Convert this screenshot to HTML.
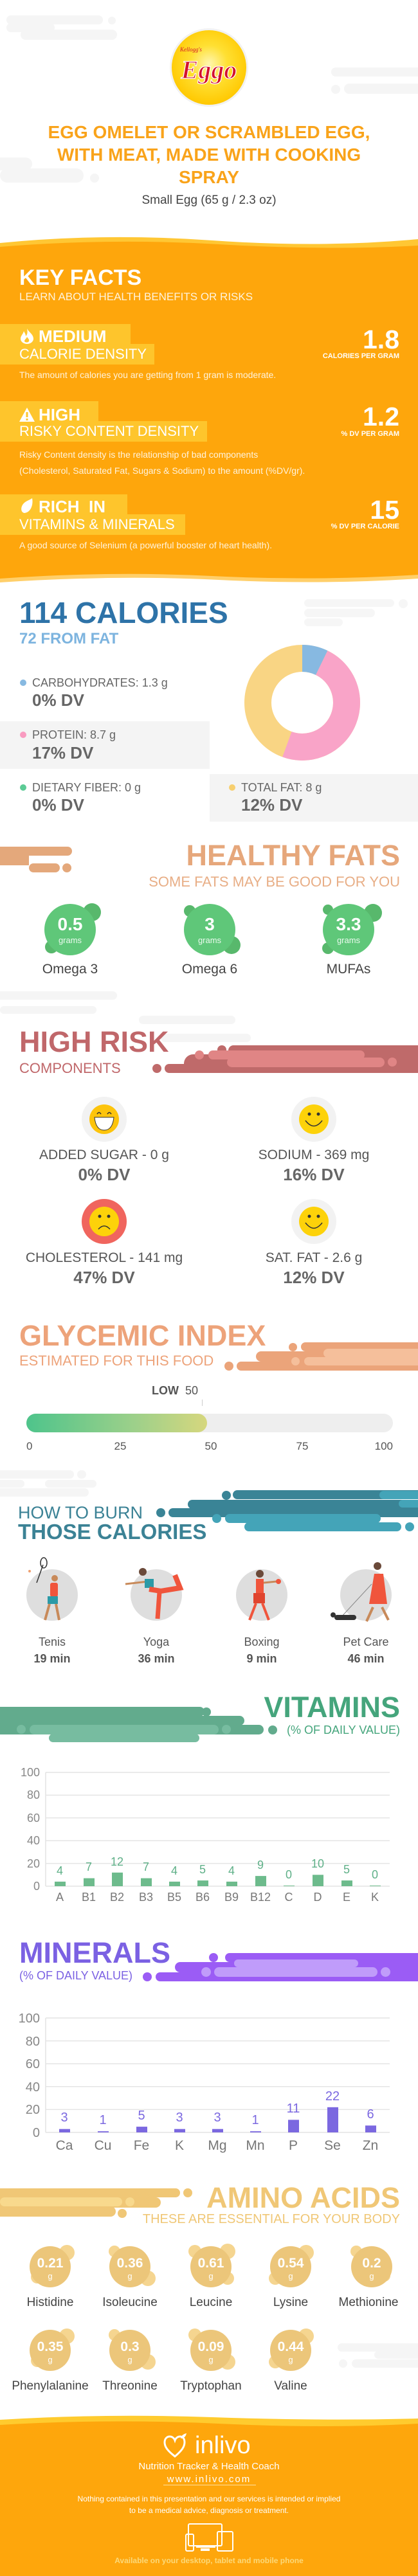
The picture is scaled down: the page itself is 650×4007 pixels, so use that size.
<!DOCTYPE html>
<html><head><meta charset="utf-8">
<style>
*{margin:0;padding:0;box-sizing:border-box}
body{width:650px;height:4007px;background:#fff;font-family:"Liberation Sans",sans-serif;overflow:hidden}
#p{position:relative;width:650px;height:4007px;overflow:hidden}
.t{position:absolute;white-space:nowrap}
.c{text-align:center}
.b{font-weight:bold}
.a{position:absolute}
.r{position:absolute;border-radius:20px}
</style></head><body><div id="p">

<!-- background clouds -->
<div class="r" style="left:10px;top:24px;width:150px;height:14px;background:#f5f5f5"></div>
<div class="r" style="left:168px;top:26px;width:12px;height:12px;background:#f5f5f5"></div>
<div class="r" style="left:32px;top:46px;width:150px;height:16px;background:#f5f5f5"></div>
<div class="r" style="left:10px;top:36px;width:75px;height:14px;background:#f5f5f5"></div>
<div class="r" style="left:515px;top:105px;width:150px;height:14px;background:#f5f5f5"></div>
<div class="r" style="left:535px;top:130px;width:130px;height:16px;background:#f5f5f5"></div>
<div class="r" style="left:515px;top:132px;width:14px;height:14px;background:#f5f5f5"></div>
<div class="r" style="left:-10px;top:245px;width:60px;height:20px;background:#f5f5f5"></div>
<div class="r" style="left:0px;top:262px;width:130px;height:22px;background:#f5f5f5"></div>
<div class="r" style="left:140px;top:270px;width:14px;height:14px;background:#f5f5f5"></div>

<!-- logo -->
<svg class="a" style="left:262px;top:42px" width="126" height="126">
<defs><radialGradient id="lg" cx="50%" cy="45%" r="55%"><stop offset="0" stop-color="#fff6b0"/><stop offset=".45" stop-color="#ffe033"/><stop offset="1" stop-color="#ffc800"/></radialGradient></defs>
<circle cx="63" cy="63" r="61" fill="#f2f2f2"/>
<circle cx="63" cy="63" r="58" fill="url(#lg)"/>
<text x="18" y="38" font-family="Liberation Serif" font-style="italic" font-size="9" fill="#d3112e">Kellogg's</text>
<text x="63" y="80" text-anchor="middle" font-family="Liberation Serif" font-style="italic" font-weight="bold" font-size="40" fill="#d3112e" stroke="#fff" stroke-width="1.2">Eggo</text>
</svg>

<div class="t c b" style="left:0;width:650px;top:188px;line-height:35px;font-size:28px;color:#f9a31a">EGG OMELET OR SCRAMBLED EGG,<br>WITH MEAT, MADE WITH COOKING<br>SPRAY</div>
<div class="t c" style="left:0;width:650px;top:300px;line-height:24px;font-size:19px;color:#444">Small Egg (65 g / 2.3 oz)</div>

<!-- orange key facts bg -->
<svg class="a" style="left:0;top:360px" width="650" height="560">
<path d="M0 18 Q160 2 330 14 T650 12 L650 560 L0 560Z" fill="#ffc734"/>
<path d="M0 24 Q170 10 340 20 T650 22 L650 560 L0 560Z" fill="#fea60c"/>
<path d="M0 540 Q170 528 330 536 T650 534 L650 560 L0 560Z" fill="#ffcf6a"/>
<path d="M0 546 Q180 534 340 542 T650 540 L650 560 L0 560Z" fill="#fff"/>
</svg>

<div class="t b" style="left:30px;top:412px;line-height:40px;font-size:34px;color:#fff">KEY FACTS</div>
<div class="t" style="left:30px;top:452px;line-height:20px;font-size:17px;color:#fff3dc">LEARN ABOUT HEALTH BENEFITS OR RISKS</div>

<div class="a" style="left:0;top:504px;width:203px;height:32px;background:#fec52c"></div>
<div class="a" style="left:0;top:535px;width:240px;height:32px;background:#fec52c"></div>
<svg class="a" style="left:31px;top:511px" width="22" height="24"><path d="M11 0 C14 6 21 9 21 16 A10 8 0 0 1 1 16 C1 11 5 9 6 4 C8 8 9 9 9 12 C12 9 12 5 11 0Z" fill="#fff"/><path d="M11 13 C13 16 15 17 14 20 A4 3 0 0 1 7 20 C7 17 10 16 11 13Z" fill="#fec52c"/></svg>
<div class="t b" style="left:60px;top:508px;line-height:30px;font-size:26px;color:#fff">MEDIUM</div>
<div class="t" style="left:30px;top:538px;line-height:26px;font-size:22px;color:#fff">CALORIE DENSITY</div>
<div class="t b" style="right:29px;top:506px;line-height:44px;font-size:41px;color:#fff">1.8</div>
<div class="t b" style="right:29px;top:548px;line-height:13px;font-size:11px;color:#fff">CALORIES PER GRAM</div>
<div class="t" style="left:30px;top:575px;line-height:17px;font-size:14px;color:#fff3dc">The amount of calories you are getting from 1 gram is moderate.</div>

<div class="a" style="left:0;top:624px;width:153px;height:32px;background:#fec52c"></div>
<div class="a" style="left:0;top:655px;width:322px;height:32px;background:#fec52c"></div>
<svg class="a" style="left:30px;top:634px" width="24" height="22"><path d="M12 0 L24 22 L0 22Z" fill="#fff"/><rect x="10.5" y="7" width="3" height="8" fill="#fec52c"/><rect x="10.5" y="17" width="3" height="3" fill="#fec52c"/></svg>
<div class="t b" style="left:60px;top:630px;line-height:30px;font-size:26px;color:#fff">HIGH</div>
<div class="t" style="left:30px;top:658px;line-height:26px;font-size:22px;color:#fff">RISKY CONTENT DENSITY</div>
<div class="t b" style="right:29px;top:626px;line-height:44px;font-size:41px;color:#fff">1.2</div>
<div class="t b" style="right:29px;top:669px;line-height:13px;font-size:11px;color:#fff">% DV PER GRAM</div>
<div class="t" style="left:30px;top:695px;line-height:25px;font-size:14px;color:#fff3dc">Risky Content density is the relationship of bad components<br>(Cholesterol, Saturated Fat, Sugars &amp; Sodium) to the amount (%DV/gr).</div>

<div class="a" style="left:0;top:769px;width:198px;height:32px;background:#fec52c"></div>
<div class="a" style="left:0;top:800px;width:288px;height:32px;background:#fec52c"></div>
<svg class="a" style="left:32px;top:775px" width="20" height="24"><path d="M18 0 C20 10 16 22 6 23 C0 22 0 14 4 9 C8 4 14 3 18 0Z" fill="#fff"/></svg>
<div class="t b" style="left:60px;top:773px;line-height:30px;font-size:26px;color:#fff">RICH&nbsp; IN</div>
<div class="t" style="left:30px;top:803px;line-height:26px;font-size:22px;color:#fff">VITAMINS &amp; MINERALS</div>
<div class="t b" style="right:29px;top:771px;line-height:44px;font-size:41px;color:#fff">15</div>
<div class="t b" style="right:29px;top:813px;line-height:13px;font-size:11px;color:#fff">% DV PER CALORIE</div>
<div class="t" style="left:30px;top:840px;line-height:17px;font-size:14px;color:#fff3dc">A good source of Selenium (a powerful booster of heart health).</div>

<!-- calories -->
<div class="r" style="left:473px;top:932px;width:140px;height:12px;background:#f6f6f6"></div>
<div class="r" style="left:620px;top:932px;width:14px;height:14px;background:#f6f6f6"></div>
<div class="r" style="left:473px;top:947px;width:110px;height:13px;background:#f6f6f6"></div>
<div class="r" style="left:473px;top:962px;width:60px;height:12px;background:#f6f6f6"></div>
<div class="t b" style="left:30px;top:926px;line-height:54px;font-size:46px;color:#2e73a8">114 CALORIES</div>
<div class="t b" style="left:30px;top:980px;line-height:28px;font-size:24px;color:#7db4df">72 FROM FAT</div>

<svg class="a" style="left:370px;top:993px" width="200" height="200">
<g transform="rotate(-90 100 100)">
<circle cx="100" cy="100" r="69" fill="none" stroke="#f9d584" stroke-width="42"/>
<circle cx="100" cy="100" r="69" fill="none" stroke="#87b9e1" stroke-width="42" stroke-dasharray="31.3 1000"/>
<circle cx="100" cy="100" r="69" fill="none" stroke="#f9a4c8" stroke-width="42" stroke-dasharray="209.5 1000" stroke-dashoffset="-31.3"/>
</g></svg>

<div class="a" style="left:0;top:1122px;width:326px;height:74px;background:#f4f4f4"></div>
<div class="a" style="left:326px;top:1204px;width:324px;height:74px;background:#f4f4f4"></div>

<div class="a" style="left:31px;top:1057px;width:10px;height:10px;border-radius:5px;background:#87b9e1"></div>
<div class="t" style="left:50px;top:1051px;line-height:22px;font-size:18px;color:#666">CARBOHYDRATES: 1.3 g</div>
<div class="t b" style="left:50px;top:1074px;line-height:30px;font-size:26px;color:#666">0% DV</div>
<div class="a" style="left:31px;top:1138px;width:10px;height:10px;border-radius:5px;background:#f99bc0"></div>
<div class="t" style="left:50px;top:1132px;line-height:22px;font-size:18px;color:#666">PROTEIN: 8.7 g</div>
<div class="t b" style="left:50px;top:1156px;line-height:30px;font-size:26px;color:#666">17% DV</div>
<div class="a" style="left:31px;top:1220px;width:10px;height:10px;border-radius:5px;background:#5ccb95"></div>
<div class="t" style="left:50px;top:1214px;line-height:22px;font-size:18px;color:#666">DIETARY FIBER: 0 g</div>
<div class="t b" style="left:50px;top:1237px;line-height:30px;font-size:26px;color:#666">0% DV</div>
<div class="a" style="left:356px;top:1220px;width:10px;height:10px;border-radius:5px;background:#f7cf6f"></div>
<div class="t" style="left:375px;top:1214px;line-height:22px;font-size:18px;color:#666">TOTAL FAT: 8 g</div>
<div class="t b" style="left:375px;top:1237px;line-height:30px;font-size:26px;color:#666">12% DV</div>

<!-- healthy fats -->
<div class="r" style="left:-20px;top:1317px;width:132px;height:14px;background:#e4a87b"></div>
<div class="a" style="left:0;top:1330px;width:45px;height:16px;background:#e4a87b"></div>
<div class="r" style="left:45px;top:1343px;width:48px;height:14px;background:#e4a87b"></div>
<div class="r" style="left:97px;top:1343px;width:14px;height:14px;background:#e4a87b"></div>
<div class="t b" style="right:28px;top:1305px;line-height:52px;font-size:45px;color:#e6a77b">HEALTHY FATS</div>
<div class="t" style="right:28px;top:1359px;line-height:26px;font-size:22px;color:#e8ae86">SOME FATS MAY BE GOOD FOR YOU</div>

<svg class="a" style="left:0;top:1400px" width="650" height="100">
<g fill="#58b86c"><circle cx="143" cy="19" r="14"/><circle cx="80" cy="73" r="10"/><circle cx="295" cy="17" r="9"/><circle cx="360" cy="70" r="14"/><circle cx="580" cy="20" r="14"/><circle cx="510" cy="75" r="9"/><circle cx="510" cy="15" r="8"/></g>
<g fill="#5fc779"><circle cx="109" cy="46" r="40"/><circle cx="326" cy="46" r="40"/><circle cx="542" cy="46" r="40"/></g>
</svg>
<div class="t c b" style="left:59px;width:100px;top:1422px;line-height:32px;font-size:28px;color:#fff">0.5</div>
<div class="t c b" style="left:276px;width:100px;top:1422px;line-height:32px;font-size:28px;color:#fff">3</div>
<div class="t c b" style="left:492px;width:100px;top:1422px;line-height:32px;font-size:28px;color:#fff">3.3</div>
<div class="t c" style="left:59px;width:100px;top:1455px;line-height:16px;font-size:13px;color:#eafaee">grams</div>
<div class="t c" style="left:276px;width:100px;top:1455px;line-height:16px;font-size:13px;color:#eafaee">grams</div>
<div class="t c" style="left:492px;width:100px;top:1455px;line-height:16px;font-size:13px;color:#eafaee">grams</div>
<div class="t c" style="left:49px;width:120px;top:1495px;line-height:26px;font-size:21px;color:#444">Omega 3</div>
<div class="t c" style="left:266px;width:120px;top:1495px;line-height:26px;font-size:21px;color:#444">Omega 6</div>
<div class="t c" style="left:482px;width:120px;top:1495px;line-height:26px;font-size:21px;color:#444">MUFAs</div>

<!-- high risk -->
<div class="r" style="left:-10px;top:1542px;width:192px;height:13px;background:#f5f5f5"></div>
<div class="r" style="left:0;top:1565px;width:150px;height:12px;background:#f5f5f5"></div>
<div class="r" style="left:216px;top:1580px;width:150px;height:13px;background:#f5f5f5"></div>
<div class="r" style="left:250px;top:1608px;width:140px;height:13px;background:#f5f5f5"></div>
<div class="a" style="left:355px;top:1626px;width:300px;height:43px;background:#bf6a6a;border-radius:8px 0 0 8px"></div>
<div class="r" style="left:286px;top:1640px;width:100px;height:29px;background:#bf6a6a"></div>
<div class="r" style="left:256px;top:1655px;width:120px;height:14px;background:#bf6a6a"></div>
<div class="r" style="left:237px;top:1655px;width:14px;height:14px;background:#bf6a6a"></div>
<div class="r" style="left:338px;top:1626px;width:14px;height:14px;background:#bf6a6a"></div>
<div class="r" style="left:324px;top:1634px;width:243px;height:14px;background:#e08585"></div>
<div class="r" style="left:353px;top:1645px;width:245px;height:15px;background:#e08585"></div>
<div class="r" style="left:303px;top:1634px;width:14px;height:14px;background:#e08585"></div>
<div class="r" style="left:603px;top:1645px;width:14px;height:14px;background:#e08585"></div>
<div class="t b" style="left:30px;top:1595px;line-height:52px;font-size:45px;color:#c0676a">HIGH RISK</div>
<div class="t" style="left:30px;top:1649px;line-height:26px;font-size:22px;color:#c0676a">COMPONENTS</div>

<svg class="a" style="left:0;top:1700px" width="650" height="240">
<ellipse cx="162" cy="41" rx="35" ry="35" fill="#f2f2f2"/>
<circle cx="162" cy="41" r="23" fill="#fdc40c"/>
<path d="M147 38 L177 38 Q175 58 162 58 Q149 58 147 38Z" fill="#fff" stroke="#333" stroke-width="1"/>
<path d="M151 33 q3-5 6 0 M167 33 q3-5 6 0" stroke="#333" fill="none" stroke-width="1.5"/>
<ellipse cx="488" cy="41" rx="35" ry="35" fill="#f2f2f2"/>
<circle cx="488" cy="41" r="23" fill="#fdd20a"/>
<circle cx="481" cy="33" r="2.5" fill="#333"/><circle cx="495" cy="33" r="2.5" fill="#333"/>
<path d="M475 43 Q488 60 501 43" stroke="#333" fill="none" stroke-width="1.5"/>
<ellipse cx="162" cy="200" rx="35" ry="35" fill="#f0655e"/>
<circle cx="162" cy="200" r="23" fill="#fdd20a"/>
<circle cx="155" cy="192" r="2.5" fill="#333"/><circle cx="169" cy="192" r="2.5" fill="#333"/>
<path d="M153 212 Q162 202 171 212" stroke="#333" fill="none" stroke-width="1.5"/>
<ellipse cx="488" cy="200" rx="35" ry="35" fill="#f2f2f2"/>
<circle cx="488" cy="200" r="23" fill="#fdd20a"/>
<circle cx="481" cy="192" r="2.5" fill="#333"/><circle cx="495" cy="192" r="2.5" fill="#333"/>
<path d="M475 202 Q488 219 501 202" stroke="#333" fill="none" stroke-width="1.5"/>
</svg>
<div class="t c" style="left:12px;width:300px;top:1784px;line-height:26px;font-size:21px;color:#555">ADDED SUGAR - 0 g</div>
<div class="t c b" style="left:12px;width:300px;top:1812px;line-height:30px;font-size:26px;color:#666">0% DV</div>
<div class="t c" style="left:338px;width:300px;top:1784px;line-height:26px;font-size:21px;color:#555">SODIUM - 369 mg</div>
<div class="t c b" style="left:338px;width:300px;top:1812px;line-height:30px;font-size:26px;color:#666">16% DV</div>
<div class="t c" style="left:12px;width:300px;top:1944px;line-height:26px;font-size:21px;color:#555">CHOLESTEROL - 141 mg</div>
<div class="t c b" style="left:12px;width:300px;top:1972px;line-height:30px;font-size:26px;color:#666">47% DV</div>
<div class="t c" style="left:338px;width:300px;top:1944px;line-height:26px;font-size:21px;color:#555">SAT. FAT - 2.6 g</div>
<div class="t c b" style="left:338px;width:300px;top:1972px;line-height:30px;font-size:26px;color:#666">12% DV</div>

<!-- glycemic -->
<div class="a" style="left:468px;top:2088px;width:190px;height:14px;background:#eba47a;border-radius:7px 0 0 7px"></div>
<div class="r" style="left:449px;top:2089px;width:13px;height:13px;background:#eba47a"></div>
<div class="a" style="left:398px;top:2102px;width:260px;height:16px;background:#eba47a;border-radius:8px 0 0 8px"></div>
<div class="a" style="left:368px;top:2118px;width:290px;height:14px;background:#eba47a;border-radius:7px 0 0 7px"></div>
<div class="r" style="left:349px;top:2118px;width:14px;height:14px;background:#eba47a"></div>
<div class="a" style="left:503px;top:2098px;width:150px;height:14px;background:#f5bf9b;border-radius:7px 0 0 7px"></div>
<div class="a" style="left:473px;top:2111px;width:180px;height:13px;background:#f5bf9b;border-radius:7px 0 0 7px"></div>
<div class="r" style="left:453px;top:2111px;width:13px;height:13px;background:#f5bf9b"></div>
<div class="t b" style="left:30px;top:2052px;line-height:52px;font-size:45px;color:#eda37a">GLYCEMIC INDEX</div>
<div class="t" style="left:30px;top:2104px;line-height:26px;font-size:22px;color:#eda37a">ESTIMATED FOR THIS FOOD</div>
<div class="t" style="left:236px;top:2152px;line-height:22px;font-size:18px;color:#555"><b>LOW</b>&nbsp; 50</div>
<div class="a" style="left:314px;top:2177px;width:1px;height:10px;background:#ccc"></div>
<div class="a" style="left:41px;top:2199px;width:570px;height:29px;border-radius:15px;background:#eeeeee"></div>
<div class="a" style="left:41px;top:2199px;width:281px;height:29px;border-radius:15px;background:linear-gradient(90deg,#4ec48b,#9dd08a 60%,#d6d77e)"></div>
<div class="t" style="left:41px;top:2240px;line-height:20px;font-size:17px;color:#555">0</div>
<div class="t c" style="left:167px;width:40px;top:2240px;line-height:20px;font-size:17px;color:#555">25</div>
<div class="t c" style="left:308px;width:40px;top:2240px;line-height:20px;font-size:17px;color:#555">50</div>
<div class="t c" style="left:450px;width:40px;top:2240px;line-height:20px;font-size:17px;color:#555">75</div>
<div class="t" style="right:39px;top:2240px;line-height:20px;font-size:17px;color:#555">100</div>

<!-- burn -->
<div class="r" style="left:-10px;top:2287px;width:125px;height:13px;background:#f5f5f5"></div>
<div class="r" style="left:120px;top:2287px;width:14px;height:13px;background:#f5f5f5"></div>
<div class="r" style="left:-10px;top:2302px;width:48px;height:12px;background:#f5f5f5"></div>
<div class="r" style="left:70px;top:2302px;width:80px;height:12px;background:#f5f5f5"></div>
<div class="r" style="left:-10px;top:2315px;width:148px;height:13px;background:#f5f5f5"></div>
<div class="a" style="left:362px;top:2318px;width:300px;height:14px;background:#3a8496;border-radius:7px 0 0 7px"></div>
<div class="r" style="left:345px;top:2319px;width:14px;height:14px;background:#3a8496"></div>
<div class="a" style="left:292px;top:2333px;width:370px;height:14px;background:#3a8496;border-radius:7px 0 0 7px"></div>
<div class="a" style="left:262px;top:2346px;width:400px;height:14px;background:#3a8496;border-radius:7px 0 0 7px"></div>
<div class="r" style="left:243px;top:2346px;width:14px;height:14px;background:#3a8496"></div>
<div class="r" style="left:590px;top:2319px;width:70px;height:13px;background:#44a4b8"></div>
<div class="r" style="left:620px;top:2333px;width:40px;height:12px;background:#44a4b8"></div>
<div class="r" style="left:350px;top:2355px;width:242px;height:14px;background:#44a4b8"></div>
<div class="r" style="left:330px;top:2355px;width:14px;height:14px;background:#44a4b8"></div>
<div class="r" style="left:380px;top:2368px;width:244px;height:14px;background:#44a4b8"></div>
<div class="r" style="left:630px;top:2368px;width:14px;height:14px;background:#44a4b8"></div>
<div class="t" style="left:28px;top:2338px;line-height:30px;font-size:27px;color:#3b8295">HOW TO BURN</div>
<div class="t b" style="left:28px;top:2364px;line-height:38px;font-size:33px;color:#3b8295">THOSE CALORIES</div>

<svg class="a" style="left:0;top:2420px" width="650" height="130">
<g fill="#dedede"><ellipse cx="81" cy="61" rx="40" ry="40"/><ellipse cx="243" cy="61" rx="40" ry="40"/><ellipse cx="407" cy="61" rx="40" ry="40"/><ellipse cx="569" cy="61" rx="40" ry="40"/></g>
<!-- tenis -->
<circle cx="46" cy="24" r="2" fill="#f0a070"/>
<line x1="57" y1="42" x2="67" y2="14" stroke="#333" stroke-width="1.5"/><ellipse cx="68" cy="11" rx="5" ry="8" fill="none" stroke="#333" stroke-width="1.5"/>
<circle cx="85" cy="35" r="5" fill="#c88a5a"/><rect x="78" y="42" width="12" height="22" rx="3" fill="#f0553c"/>
<rect x="74" y="63" width="16" height="12" fill="#2b9aa7"/><path d="M77 75 L70 100 M87 75 L92 100" stroke="#c88a5a" stroke-width="4"/>
<!-- yoga -->
<circle cx="222" cy="25" r="6" fill="#6b4a3a"/><path d="M195 44 L230 40" stroke="#c88a5a" stroke-width="3"/>
<rect x="225" y="36" width="14" height="14" fill="#2b9aa7"/><path d="M232 52 L250 55 L280 50 L272 30" stroke="#f0553c" stroke-width="8" fill="none"/>
<path d="M248 56 L245 98" stroke="#f0553c" stroke-width="7"/>
<!-- boxing -->
<circle cx="404" cy="28" r="6" fill="#6b4a3a"/><rect x="398" y="36" width="12" height="22" fill="#f0553c"/>
<path d="M410 42 L430 40" stroke="#c88a5a" stroke-width="3"/><circle cx="433" cy="40" r="4" fill="#f0553c"/>
<rect x="394" y="58" width="18" height="16" fill="#e0452f"/><path d="M398 74 L388 100 M408 74 L418 100" stroke="#f0553c" stroke-width="4"/>
<!-- pet -->
<circle cx="587" cy="16" r="6" fill="#6b4a3a"/><path d="M582 28 L596 28 L602 75 L574 75Z" fill="#f0553c"/>
<path d="M580 80 L570 102 M594 80 L604 100" stroke="#c88a5a" stroke-width="4"/>
<line x1="578" y1="44" x2="530" y2="96" stroke="#888" stroke-width="1"/>
<rect x="520" y="92" width="34" height="8" rx="4" fill="#333"/><circle cx="518" cy="92" r="4" fill="#333"/>
</svg>
<div class="t c" style="left:31px;width:100px;top:2543px;line-height:22px;font-size:18px;color:#555">Tenis</div>
<div class="t c" style="left:193px;width:100px;top:2543px;line-height:22px;font-size:18px;color:#555">Yoga</div>
<div class="t c" style="left:357px;width:100px;top:2543px;line-height:22px;font-size:18px;color:#555">Boxing</div>
<div class="t c" style="left:519px;width:100px;top:2543px;line-height:22px;font-size:18px;color:#555">Pet Care</div>
<div class="t c b" style="left:31px;width:100px;top:2569px;line-height:22px;font-size:18px;color:#555">19 min</div>
<div class="t c b" style="left:193px;width:100px;top:2569px;line-height:22px;font-size:18px;color:#555">36 min</div>
<div class="t c b" style="left:357px;width:100px;top:2569px;line-height:22px;font-size:18px;color:#555">9 min</div>
<div class="t c b" style="left:519px;width:100px;top:2569px;line-height:22px;font-size:18px;color:#555">46 min</div>

<!-- vitamins -->
<div class="a" style="left:0;top:2655px;width:318px;height:15px;background:#62ab8d;border-radius:0 8px 8px 0"></div>
<div class="r" style="left:314px;top:2656px;width:14px;height:14px;background:#62ab8d"></div>
<div class="a" style="left:0;top:2669px;width:380px;height:15px;background:#62ab8d;border-radius:0 8px 8px 0"></div>
<div class="a" style="left:0;top:2683px;width:410px;height:15px;background:#62ab8d;border-radius:0 8px 8px 0"></div>
<div class="r" style="left:417px;top:2684px;width:14px;height:14px;background:#62ab8d"></div>
<div class="r" style="left:46px;top:2683px;width:294px;height:15px;background:#77bca0"></div>
<div class="r" style="left:26px;top:2683px;width:14px;height:14px;background:#77bca0"></div>
<div class="r" style="left:345px;top:2683px;width:14px;height:14px;background:#77bca0"></div>
<div class="r" style="left:76px;top:2697px;width:234px;height:13px;background:#77bca0"></div>
<div class="t b" style="right:28px;top:2630px;line-height:52px;font-size:45px;color:#45a57c">VITAMINS</div>
<div class="t" style="right:28px;top:2680px;line-height:22px;font-size:18px;color:#45a57c">(% OF DAILY VALUE)</div>

<svg class="a" style="left:0;top:2740px" width="650" height="230" font-family="Liberation Sans">
<g stroke="#e4e4e4" stroke-width="1.5"><line x1="71" y1="17" x2="606" y2="17"/><line x1="71" y1="52.4" x2="606" y2="52.4"/><line x1="71" y1="87.8" x2="606" y2="87.8"/><line x1="71" y1="123.2" x2="606" y2="123.2"/><line x1="71" y1="158.6" x2="606" y2="158.6"/><line x1="71" y1="194" x2="606" y2="194"/><line x1="71" y1="17" x2="71" y2="194"/></g>
<g fill="#888" font-size="18" text-anchor="end"><text x="62" y="23">100</text><text x="62" y="58">80</text><text x="62" y="94">60</text><text x="62" y="129">40</text><text x="62" y="165">20</text><text x="62" y="200">0</text></g>
<g fill="#6dbb8c">
<rect x="85" y="186.9" width="17" height="7.1"/><rect x="130" y="181.6" width="17" height="12.4"/><rect x="174" y="172.8" width="17" height="21.2"/><rect x="219" y="181.6" width="17" height="12.4"/><rect x="263" y="186.9" width="17" height="7.1"/><rect x="307" y="185.1" width="17" height="8.9"/><rect x="352" y="186.9" width="17" height="7.1"/><rect x="397" y="178.1" width="17" height="15.9"/><rect x="441" y="193" width="17" height="1"/><rect x="486" y="176.3" width="17" height="17.7"/><rect x="531" y="185.1" width="17" height="8.9"/><rect x="575" y="193" width="17" height="1"/>
</g>
<g fill="#5fb088" font-size="18" text-anchor="middle">
<text x="93" y="176">4</text><text x="138" y="170">7</text><text x="182" y="162">12</text><text x="227" y="170">7</text><text x="271" y="176">4</text><text x="315" y="174">5</text><text x="360" y="176">4</text><text x="405" y="167">9</text><text x="449" y="182">0</text><text x="494" y="165">10</text><text x="539" y="174">5</text><text x="583" y="182">0</text>
</g>
<g fill="#777" font-size="18" text-anchor="middle">
<text x="93" y="217">A</text><text x="138" y="217">B1</text><text x="182" y="217">B2</text><text x="227" y="217">B3</text><text x="271" y="217">B5</text><text x="315" y="217">B6</text><text x="360" y="217">B9</text><text x="405" y="217">B12</text><text x="449" y="217">C</text><text x="494" y="217">D</text><text x="539" y="217">E</text><text x="583" y="217">K</text>
</g>
</svg>

<!-- minerals -->
<div class="a" style="left:350px;top:3038px;width:310px;height:14px;background:#9b5cf5;border-radius:7px 0 0 7px"></div>
<div class="r" style="left:325px;top:3038px;width:14px;height:14px;background:#9b5cf5"></div>
<div class="a" style="left:272px;top:3052px;width:390px;height:16px;background:#9b5cf5;border-radius:8px 0 0 8px"></div>
<div class="a" style="left:242px;top:3068px;width:420px;height:14px;background:#9b5cf5;border-radius:7px 0 0 7px"></div>
<div class="r" style="left:222px;top:3068px;width:14px;height:14px;background:#9b5cf5"></div>
<div class="r" style="left:364px;top:3048px;width:193px;height:12px;background:#c09cfa"></div>
<div class="r" style="left:333px;top:3060px;width:254px;height:15px;background:#c09cfa"></div>
<div class="r" style="left:313px;top:3060px;width:15px;height:15px;background:#c09cfa"></div>
<div class="r" style="left:592px;top:3060px;width:15px;height:15px;background:#c09cfa"></div>
<div class="t b" style="left:30px;top:3012px;line-height:52px;font-size:45px;color:#7b61e3">MINERALS</div>
<div class="t" style="left:30px;top:3062px;line-height:22px;font-size:18px;color:#7b61e3">(% OF DAILY VALUE)</div>

<svg class="a" style="left:0;top:3120px" width="650" height="240" font-family="Liberation Sans">
<g stroke="#e4e4e4" stroke-width="1.5"><line x1="71" y1="19" x2="606" y2="19"/><line x1="71" y1="54.6" x2="606" y2="54.6"/><line x1="71" y1="90.2" x2="606" y2="90.2"/><line x1="71" y1="125.8" x2="606" y2="125.8"/><line x1="71" y1="161.4" x2="606" y2="161.4"/><line x1="71" y1="197" x2="606" y2="197"/><line x1="71" y1="19" x2="71" y2="197"/></g>
<g fill="#888" font-size="20" text-anchor="end"><text x="62" y="26">100</text><text x="62" y="62">80</text><text x="62" y="97">60</text><text x="62" y="133">40</text><text x="62" y="168">20</text><text x="62" y="204">0</text></g>
<g fill="#7b68e0">
<rect x="92" y="191.7" width="17" height="5.3"/><rect x="152" y="195.2" width="17" height="1.8"/><rect x="212" y="188.1" width="17" height="8.9"/><rect x="271" y="191.7" width="17" height="5.3"/><rect x="330" y="191.7" width="17" height="5.3"/><rect x="389" y="195.2" width="17" height="1.8"/><rect x="448" y="177.4" width="17" height="19.6"/><rect x="509" y="157.8" width="17" height="39.2"/><rect x="568" y="186.3" width="17" height="10.7"/>
</g>
<g fill="#7b68e0" font-size="20" text-anchor="middle">
<text x="100" y="180">3</text><text x="160" y="184">1</text><text x="220" y="177">5</text><text x="279" y="180">3</text><text x="338" y="180">3</text><text x="397" y="184">1</text><text x="456" y="166">11</text><text x="517" y="147">22</text><text x="576" y="175">6</text>
</g>
<g fill="#777" font-size="21" text-anchor="middle">
<text x="100" y="224">Ca</text><text x="160" y="224">Cu</text><text x="220" y="224">Fe</text><text x="279" y="224">K</text><text x="338" y="224">Mg</text><text x="397" y="224">Mn</text><text x="456" y="224">P</text><text x="517" y="224">Se</text><text x="576" y="224">Zn</text>
</g>
</svg>

<!-- amino acids -->
<div class="a" style="left:0;top:3404px;width:280px;height:14px;background:#f0c776;border-radius:0 7px 7px 0"></div>
<div class="r" style="left:285px;top:3404px;width:14px;height:14px;background:#f0c776"></div>
<div class="a" style="left:0;top:3418px;width:250px;height:16px;background:#f0c776;border-radius:0 8px 8px 0"></div>
<div class="a" style="left:0;top:3432px;width:180px;height:16px;background:#f0c776;border-radius:0 8px 8px 0"></div>
<div class="r" style="left:183px;top:3436px;width:14px;height:14px;background:#f0c776"></div>
<div class="r" style="left:0;top:3418px;width:190px;height:14px;background:#f8d98d"></div>
<div class="r" style="left:195px;top:3418px;width:14px;height:14px;background:#f8d98d"></div>
<div class="t b" style="right:28px;top:3393px;line-height:52px;font-size:45px;color:#f0c776">AMINO ACIDS</div>
<div class="t" style="right:28px;top:3440px;line-height:24px;font-size:20px;color:#f0c776">THESE ARE ESSENTIAL FOR YOUR BODY</div>

<svg class="a" style="left:0;top:3480px" width="650" height="220">
<g fill="#f5d590">
<circle cx="104" cy="24" r="12"/><circle cx="58" cy="62" r="10"/><circle cx="178" cy="22" r="9"/><circle cx="230" cy="64" r="12"/><circle cx="303" cy="22" r="10"/><circle cx="354" cy="22" r="12"/><circle cx="354" cy="64" r="10"/><circle cx="476" cy="24" r="12"/><circle cx="428" cy="64" r="10"/><circle cx="554" cy="22" r="9"/><circle cx="598" cy="60" r="9"/>
<circle cx="104" cy="154" r="12"/><circle cx="58" cy="192" r="10"/><circle cx="178" cy="152" r="9"/><circle cx="230" cy="194" r="12"/><circle cx="303" cy="152" r="10"/><circle cx="354" cy="194" r="12"/><circle cx="476" cy="154" r="12"/><circle cx="428" cy="194" r="10"/>
</g>
<g fill="#ecc67a">
<circle cx="78" cy="46" r="32"/><circle cx="202" cy="46" r="32"/><circle cx="328" cy="46" r="32"/><circle cx="452" cy="46" r="32"/><circle cx="578" cy="46" r="32"/>
<circle cx="78" cy="176" r="32"/><circle cx="202" cy="176" r="32"/><circle cx="328" cy="176" r="32"/><circle cx="452" cy="176" r="32"/>
</g>
</svg>
<div class="r" style="left:525px;top:3645px;width:140px;height:13px;background:#f5f5f5"></div>
<div class="r" style="left:582px;top:3657px;width:80px;height:12px;background:#f5f5f5"></div>
<div class="r" style="left:547px;top:3670px;width:120px;height:13px;background:#f5f5f5"></div>
<div class="r" style="left:527px;top:3670px;width:13px;height:13px;background:#f5f5f5"></div>

<div class="t c b" style="left:38px;width:80px;top:3509px;line-height:24px;font-size:21px;color:#fff">0.21</div>
<div class="t c b" style="left:162px;width:80px;top:3509px;line-height:24px;font-size:21px;color:#fff">0.36</div>
<div class="t c b" style="left:288px;width:80px;top:3509px;line-height:24px;font-size:21px;color:#fff">0.61</div>
<div class="t c b" style="left:412px;width:80px;top:3509px;line-height:24px;font-size:21px;color:#fff">0.54</div>
<div class="t c b" style="left:538px;width:80px;top:3509px;line-height:24px;font-size:21px;color:#fff">0.2</div>
<div class="t c" style="left:38px;width:80px;top:3533px;line-height:16px;font-size:13px;color:#fff">g</div>
<div class="t c" style="left:162px;width:80px;top:3533px;line-height:16px;font-size:13px;color:#fff">g</div>
<div class="t c" style="left:288px;width:80px;top:3533px;line-height:16px;font-size:13px;color:#fff">g</div>
<div class="t c" style="left:412px;width:80px;top:3533px;line-height:16px;font-size:13px;color:#fff">g</div>
<div class="t c" style="left:538px;width:80px;top:3533px;line-height:16px;font-size:13px;color:#fff">g</div>
<div class="t c" style="left:8px;width:140px;top:3570px;line-height:24px;font-size:19px;color:#444">Histidine</div>
<div class="t c" style="left:132px;width:140px;top:3570px;line-height:24px;font-size:19px;color:#444">Isoleucine</div>
<div class="t c" style="left:258px;width:140px;top:3570px;line-height:24px;font-size:19px;color:#444">Leucine</div>
<div class="t c" style="left:382px;width:140px;top:3570px;line-height:24px;font-size:19px;color:#444">Lysine</div>
<div class="t c" style="left:503px;width:140px;top:3570px;line-height:24px;font-size:19px;color:#444">Methionine</div>

<div class="t c b" style="left:38px;width:80px;top:3639px;line-height:24px;font-size:21px;color:#fff">0.35</div>
<div class="t c b" style="left:162px;width:80px;top:3639px;line-height:24px;font-size:21px;color:#fff">0.3</div>
<div class="t c b" style="left:288px;width:80px;top:3639px;line-height:24px;font-size:21px;color:#fff">0.09</div>
<div class="t c b" style="left:412px;width:80px;top:3639px;line-height:24px;font-size:21px;color:#fff">0.44</div>
<div class="t c" style="left:38px;width:80px;top:3663px;line-height:16px;font-size:13px;color:#fff">g</div>
<div class="t c" style="left:162px;width:80px;top:3663px;line-height:16px;font-size:13px;color:#fff">g</div>
<div class="t c" style="left:288px;width:80px;top:3663px;line-height:16px;font-size:13px;color:#fff">g</div>
<div class="t c" style="left:412px;width:80px;top:3663px;line-height:16px;font-size:13px;color:#fff">g</div>
<div class="t c" style="left:8px;width:140px;top:3700px;line-height:24px;font-size:19px;color:#444">Phenylalanine</div>
<div class="t c" style="left:132px;width:140px;top:3700px;line-height:24px;font-size:19px;color:#444">Threonine</div>
<div class="t c" style="left:258px;width:140px;top:3700px;line-height:24px;font-size:19px;color:#444">Tryptophan</div>
<div class="t c" style="left:382px;width:140px;top:3700px;line-height:24px;font-size:19px;color:#444">Valine</div>

<!-- footer -->
<svg class="a" style="left:0;top:3750px" width="650" height="257">
<path d="M0 14 Q160 4 330 10 T650 12 L650 257 L0 257Z" fill="#ffcb2e"/>
<path d="M0 22 Q170 12 340 20 T650 20 L650 257 L0 257Z" fill="#fea60c"/>
</svg>
<svg class="a" style="left:254px;top:3785px" width="40" height="40"><path d="M18 36 C5 26 2 20 2 14 C2 8 6 5 10 5 C14 5 17 8 18 11 C19 8 22 5 26 5 C30 5 33 8 33 14 C33 20 30 26 18 36Z" fill="none" stroke="#fff" stroke-width="3"/><path d="M27 8 C28 3 32 1 36 0 C35 5 32 8 27 8Z" fill="#fff"/></svg>
<div class="t" style="left:303px;top:3782px;line-height:44px;font-size:38px;color:#fff">inlivo</div>
<div class="t c" style="left:0;width:650px;top:3827px;line-height:20px;font-size:15px;color:#fff">Nutrition Tracker &amp; Health Coach</div>
<div class="t c" style="left:0;width:650px;top:3847px;line-height:20px;font-size:15px;color:#fff;letter-spacing:2px">www.inlivo.com</div>
<div class="a" style="left:254px;top:3865px;width:144px;height:1px;background:#ffe0a0"></div>
<div class="t c" style="left:0;width:650px;top:3878px;line-height:18px;font-size:12px;color:#fff">Nothing contained in this presentation and our services is intended or implied<br>to be a medical advice, diagnosis or treatment.</div>
<svg class="a" style="left:288px;top:3924px" width="76" height="48"><g fill="none" stroke="#fff" stroke-width="2"><rect x="5" y="2" width="52" height="34" rx="2"/><rect x="1" y="18" width="12" height="26" rx="2"/><rect x="50" y="14" width="24" height="30" rx="2"/></g><rect x="17" y="36" width="30" height="3" fill="#fff"/><rect x="24" y="40" width="14" height="4" fill="#fff"/></svg>
<div class="t c b" style="left:0;width:650px;top:3975px;line-height:16px;font-size:12px;color:#fbd97a">Available on your desktop, tablet and mobile phone</div>

</div></body></html>
